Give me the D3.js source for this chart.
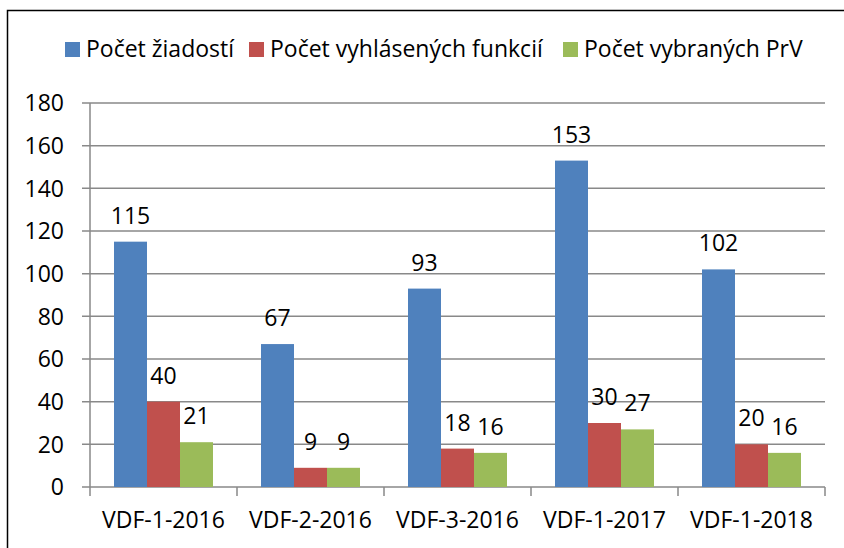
<!DOCTYPE html>
<html>
<head>
<meta charset="utf-8">
<script src="https://cdnjs.cloudflare.com/ajax/libs/d3/7.8.5/d3.min.js"></script>
<style>
	body { margin: 0; background: #fff; }
	svg text { font-family: "Open Sans", Lato, sans-serif; fill: #000; }
</style>
</head>
<body>
<div id="content"></div>
<script>
var categories = ["VDF-1-2016", "VDF-2-2016", "VDF-3-2016", "VDF-1-2017", "VDF-1-2018"];
var series = ["Počet žiadostí", "Počet vyhlásených funkcií", "Počet vybraných PrV"];
var ziadosti = [115, 67, 93, 153, 102];
var funkcie = [40, 9, 18, 30, 20];
var vybrane = [21, 9, 16, 27, 16];
var yTicks = [0, 20, 40, 60, 80, 100, 120, 140, 160, 180];
var colors = ["#4F81BD", "#C0504D", "#9BBB59"];

var values = [ziadosti, funkcie, vybrane];

var width = 844, height = 548;
var plotLeft = 90, plotRight = 825, plotTop = 103, plotBottom = 487;
var fontSize = "23px";

var svg = d3.select("#content").append("svg")
	.attr("width", width).attr("height", height);

// frame
svg.append("path")
	.attr("d", "M7.5," + height + "V10.5H" + width)
	.attr("fill", "none").attr("stroke", "#000").attr("stroke-width", 1.5);

var y = d3.scaleLinear().domain([0, 180]).range([plotBottom, plotTop]);
var x0 = d3.scaleBand().domain(categories).range([plotLeft, plotRight]);
var x1 = d3.scaleBand().domain(series).range([24, 123]);

// gridlines
svg.selectAll("line.grid").data(yTicks)
	.enter().append("line")
	.attr("class", "grid")
	.attr("x1", plotLeft - 8).attr("x2", plotRight)
	.attr("y1", function (d) { return y(d); })
	.attr("y2", function (d) { return y(d); })
	.attr("stroke", "#898989").attr("stroke-width", 1.5);

// y axis line
svg.append("line")
	.attr("x1", plotLeft).attr("x2", plotLeft)
	.attr("y1", plotTop).attr("y2", plotBottom + 9)
	.attr("stroke", "#898989").attr("stroke-width", 1.5);

// x ticks at category boundaries
var bounds = categories.map(function (c) { return x0(c); }).concat([plotRight]);
svg.selectAll("line.xtick").data(bounds.slice(1))
	.enter().append("line")
	.attr("class", "xtick")
	.attr("x1", function (d) { return d; }).attr("x2", function (d) { return d; })
	.attr("y1", plotBottom).attr("y2", plotBottom + 9)
	.attr("stroke", "#898989").attr("stroke-width", 1.5);

// y tick labels
svg.selectAll("text.ytick").data(yTicks)
	.enter().append("text")
	.attr("class", "ytick")
	.attr("x", 64)
	.attr("y", function (d) { return y(d); })
	.attr("dy", "0.36em")
	.attr("text-anchor", "end")
	.style("font-size", fontSize)
	.text(function (d) { return d; });

// x labels
svg.selectAll("text.xlabel").data(categories)
	.enter().append("text")
	.attr("class", "xlabel")
	.attr("x", function (d) { return x0(d) + x0.bandwidth() / 2; })
	.attr("y", 528)
	.attr("text-anchor", "middle")
	.style("font-size", fontSize)
	.text(function (d) { return d; });

// bars
var groups = svg.selectAll("g.cat").data(categories)
	.enter().append("g")
	.attr("class", "cat")
	.attr("transform", function (d) { return "translate(" + x0(d) + ",0)"; });

var cells = function (d, i) {
	return series.map(function (s, j) { return { s: s, v: values[j][i], j: j }; });
};

groups.selectAll("rect").data(cells)
	.enter().append("rect")
	.attr("x", function (d) { return x1(d.s); })
	.attr("width", x1.bandwidth())
	.attr("y", function (d) { return y(d.v); })
	.attr("height", function (d) { return plotBottom - y(d.v); })
	.attr("fill", function (d) { return colors[d.j]; });

groups.selectAll("text").data(cells)
	.enter().append("text")
	.attr("x", function (d) { return x1(d.s) + x1.bandwidth() / 2; })
	.attr("y", function (d) { return y(d.v) - 18; })
	.attr("text-anchor", "middle")
	.style("font-size", fontSize)
	.text(function (d) { return d.v; });

// legend
var legendX = [65, 249, 563];
var legend = svg.selectAll("g.legend").data(series)
	.enter().append("g")
	.attr("class", "legend")
	.attr("transform", function (d, i) { return "translate(" + legendX[i] + ",0)"; });

legend.append("rect")
	.attr("x", 0).attr("y", 42)
	.attr("width", 15).attr("height", 15)
	.attr("fill", function (d, i) { return colors[i]; });

legend.append("text")
	.attr("x", 21).attr("y", 57)
	.style("font-size", fontSize)
	.text(function (d) { return d; });
</script>
</body>
</html>
